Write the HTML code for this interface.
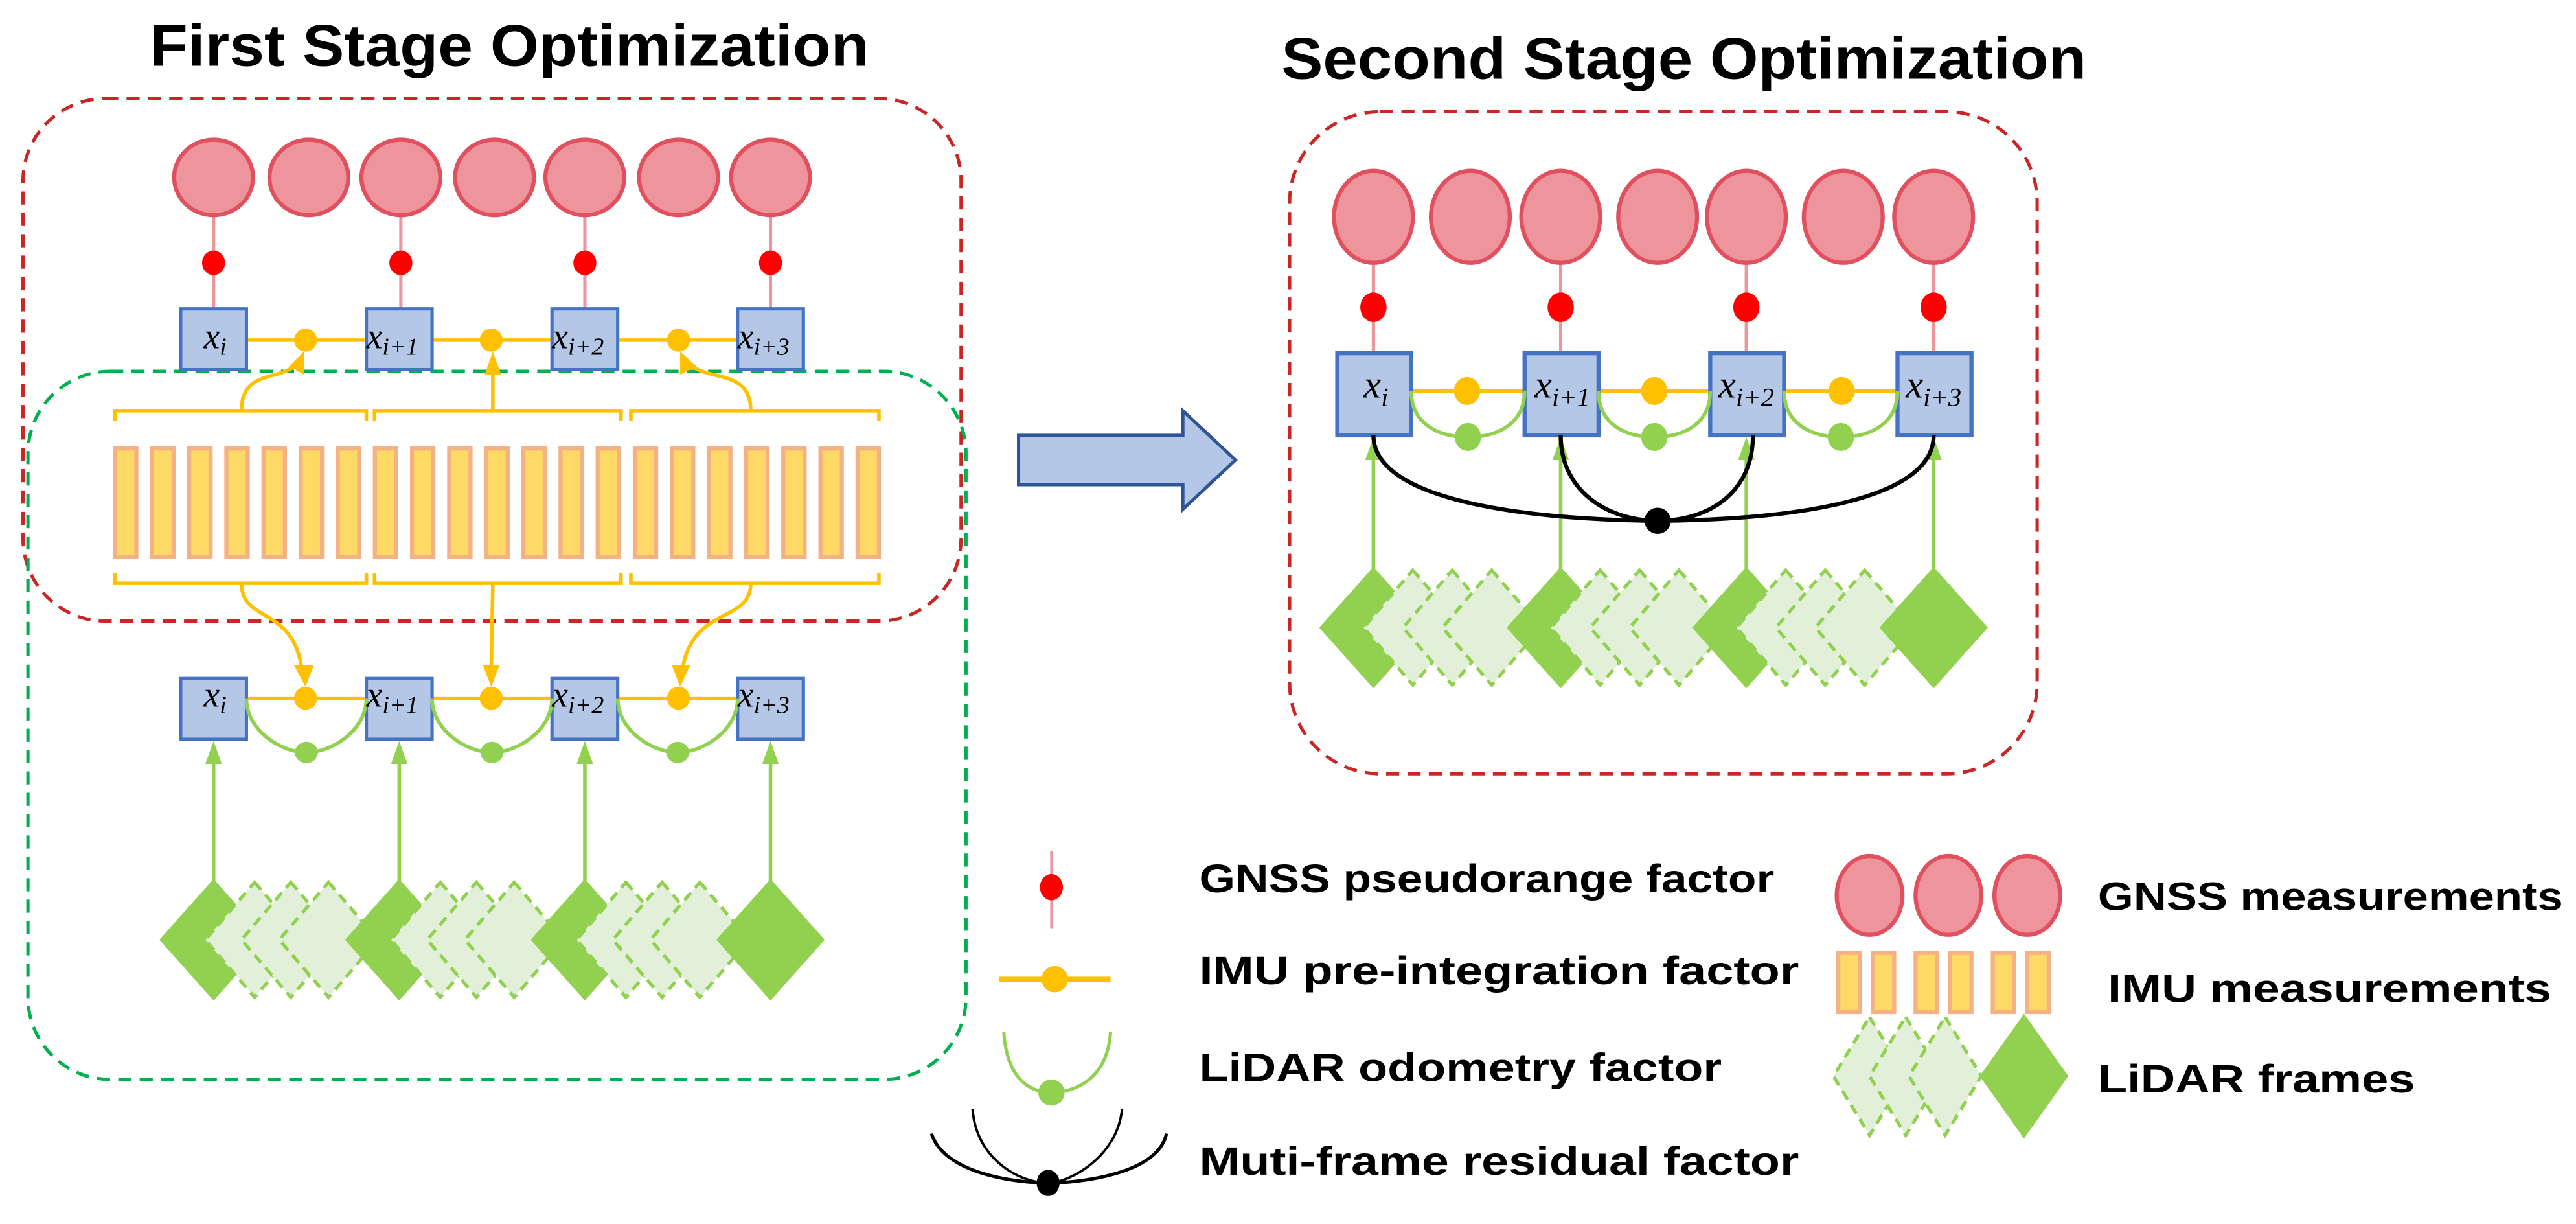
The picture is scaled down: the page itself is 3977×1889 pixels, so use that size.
<!DOCTYPE html>
<html><head><meta charset="utf-8"><style>html,body{margin:0;padding:0;background:#fff}svg{display:block}</style></head>
<body>
<svg id="s" width="3977" height="1889" viewBox="0 0 1568 745" preserveAspectRatio="none" xmlns="http://www.w3.org/2000/svg" font-family="Liberation Sans, sans-serif">
<rect width="1568" height="745" fill="#fff"/>
<text x="310" y="40" font-size="36" font-weight="bold" text-anchor="middle" textLength="438" lengthAdjust="spacingAndGlyphs">First Stage Optimization</text>
<text x="1025" y="48" font-size="36" font-weight="bold" text-anchor="middle" textLength="490" lengthAdjust="spacingAndGlyphs">Second Stage Optimization</text>
<rect x="14" y="60" width="571" height="318" rx="50" fill="none" stroke="#c00000" stroke-opacity="0.85" stroke-width="2" stroke-dasharray="8,5"/>
<rect x="17" y="226" width="571" height="431" rx="50" fill="none" stroke="#00b050" stroke-width="2" stroke-dasharray="8,5"/>
<rect x="785" y="68" width="455" height="403" rx="55" fill="none" stroke="#c00000" stroke-opacity="0.85" stroke-width="2" stroke-dasharray="8,5"/>
<g id="g"></g>
<path d="M620,265 H720 V250 L752,280 L720,310 V295 H620 Z" fill="#b4c7e7" stroke="#2f5597" stroke-width="2"/>
<g font-size="24" font-weight="bold">
<text x="730" y="543" textLength="350" lengthAdjust="spacingAndGlyphs">GNSS pseudorange factor</text>
<text x="730" y="599" textLength="365" lengthAdjust="spacingAndGlyphs">IMU pre-integration factor</text>
<text x="730" y="658" textLength="318" lengthAdjust="spacingAndGlyphs">LiDAR odometry factor</text>
<text x="730" y="715" textLength="365" lengthAdjust="spacingAndGlyphs">Muti-frame residual factor</text>
<text x="1277" y="554" textLength="283" lengthAdjust="spacingAndGlyphs">GNSS measurements</text>
<text x="1283" y="610" textLength="270" lengthAdjust="spacingAndGlyphs">IMU measurements</text>
<text x="1277" y="665" textLength="193" lengthAdjust="spacingAndGlyphs">LiDAR frames</text>
</g>
<g font-family="Liberation Serif, serif" font-style="italic" fill="#000">
<text x="124" y="212" font-size="22">x<tspan font-size="15" dy="4">i</tspan></text>
<text x="223" y="212" font-size="22">x<tspan font-size="15" dy="4">i+1</tspan></text>
<text x="336" y="212" font-size="22">x<tspan font-size="15" dy="4">i+2</tspan></text>
<text x="449" y="212" font-size="22">x<tspan font-size="15" dy="4">i+3</tspan></text>
<text x="124" y="430" font-size="22">x<tspan font-size="15" dy="4">i</tspan></text>
<text x="223" y="430" font-size="22">x<tspan font-size="15" dy="4">i+1</tspan></text>
<text x="336" y="430" font-size="22">x<tspan font-size="15" dy="4">i+2</tspan></text>
<text x="449" y="430" font-size="22">x<tspan font-size="15" dy="4">i+3</tspan></text>
<text x="830" y="242" font-size="24">x<tspan font-size="16" dy="5">i</tspan></text>
<text x="934" y="242" font-size="24">x<tspan font-size="16" dy="5">i+1</tspan></text>
<text x="1046" y="242" font-size="24">x<tspan font-size="16" dy="5">i+2</tspan></text>
<text x="1160" y="242" font-size="24">x<tspan font-size="16" dy="5">i+3</tspan></text>
</g>
</svg>
<script>
var g=document.getElementById('g'),h='';
function a(s){h+=s;}
var PK='#ee949c',PS='#e0505f',BF='#b4c7e7',BS='#4472c4',Y='#ffc000',G='#92d050';
function circ(x,y,rx,ry){a('<ellipse cx="'+x+'" cy="'+y+'" rx="'+rx+'" ry="'+ry+'" fill="'+PK+'" stroke="'+PS+'" stroke-width="2.5"/>');}
function dia(x,y,hw,hh,light){if(light)a('<path d="M'+x+','+(y-hh)+' L'+(x+hw)+','+y+' L'+x+','+(y+hh)+' L'+(x-hw)+','+y+'Z" fill="#e2f0d9" stroke="'+G+'" stroke-width="2" stroke-dasharray="6,4"/>');else a('<path d="M'+x+','+(y-hh)+' L'+(x+hw)+','+y+' L'+x+','+(y+hh)+' L'+(x-hw)+','+y+'Z" fill="'+G+'"/>');}
function arrowUp(x,y1,y2,c){a('<line x1="'+x+'" y1="'+y1+'" x2="'+x+'" y2="'+(y2+10)+'" stroke="'+c+'" stroke-width="2.2"/><path d="M'+(x-5)+','+(y2+14)+' L'+x+','+y2+' L'+(x+5)+','+(y2+14)+'Z" fill="'+c+'"/>');}
// LEFT
var LX=[130,243,356,469];
[130,188,244,301,356,413,469].forEach(function(x,i){if(i%2==0){a('<line x1="'+x+'" y1="120" x2="'+x+'" y2="188" stroke="'+PK+'" stroke-width="2"/><ellipse cx="'+x+'" cy="160" rx="7" ry="7.5" fill="red"/>');}circ(x,108,24,23);});
a('<line x1="150" y1="207" x2="448" y2="207" stroke="'+Y+'" stroke-width="2.2"/>');
a('<line x1="150" y1="425" x2="448" y2="425" stroke="'+Y+'" stroke-width="2.2"/>');
LX.forEach(function(x){a('<rect x="'+(x-20)+'" y="188" width="40" height="37" fill="'+BF+'" stroke="'+BS+'" stroke-width="2"/>');a('<rect x="'+(x-20)+'" y="413" width="40" height="37" fill="'+BF+'" stroke="'+BS+'" stroke-width="2"/>');});
[186,299,413].forEach(function(x){a('<ellipse cx="'+x+'" cy="207" rx="7" ry="7" fill="'+Y+'"/><ellipse cx="'+x+'" cy="425" rx="7" ry="7" fill="'+Y+'"/>');});
for(var i=0;i<3;i++){var x0=LX[i]+20,x1=LX[i+1]-20,m=(x0+x1)/2;a('<path d="M'+x0+',425 C'+x0+',445 '+(m-15)+',458 '+m+',458 C'+(m+15)+',458 '+x1+',445 '+x1+',425" fill="none" stroke="'+G+'" stroke-width="2.2"/><ellipse cx="'+m+'" cy="458" rx="7" ry="6.5" fill="'+G+'"/>');}
for(var k=0;k<21;k++){var bx=70+k*22.6;a('<rect x="'+bx+'" y="273" width="13" height="66" fill="#ffd966" stroke="#f4b183" stroke-width="2.5"/>');}
[[70,223],[228,378],[384,535]].forEach(function(p){a('<path d="M'+p[0]+',256 V250 H'+p[1]+' V256" fill="none" stroke="'+Y+'" stroke-width="2.2"/><path d="M'+p[0]+',349 V355 H'+p[1]+' V349" fill="none" stroke="'+Y+'" stroke-width="2.2"/>');});
a('<path d="M147,250 C147,225 170,232 180,222" fill="none" stroke="'+Y+'" stroke-width="2.2"/><path d="M176,223 L185,214 L185,228Z" fill="'+Y+'"/>');
arrowUp(300,250,214,Y);
a('<path d="M457,250 C457,225 432,232 420,222" fill="none" stroke="'+Y+'" stroke-width="2.2"/><path d="M424,223 L414,214 L414,228Z" fill="'+Y+'"/>');
a('<path d="M147,355 C147,380 180,368 184,410" fill="none" stroke="'+Y+'" stroke-width="2.2"/><path d="M179,405 L186,418 L191,405Z" fill="'+Y+'"/>');
a('<line x1="300" y1="355" x2="299" y2="406" stroke="'+Y+'" stroke-width="2.2"/><path d="M294,405 L299,418 L304,405Z" fill="'+Y+'"/>');
a('<path d="M457,355 C457,380 420,368 415,410" fill="none" stroke="'+Y+'" stroke-width="2.2"/><path d="M409,405 L414,418 L420,405Z" fill="'+Y+'"/>');
LX.forEach(function(x){arrowUp(x,540,451,G);});
LX.forEach(function(x,i){dia(x,572,33,37,false);if(i<3){dia(x+25,572,30,35,true);dia(x+47,572,30,35,true);dia(x+70,572,30,35,true);}});
// RIGHT
var RX=[836,950,1063,1177];
[836,895,950,1009,1063,1122,1177].forEach(function(x,i){if(i%2==0){a('<line x1="'+x+'" y1="158" x2="'+x+'" y2="215" stroke="'+PK+'" stroke-width="2"/><ellipse cx="'+x+'" cy="187" rx="8" ry="9" fill="red"/>');}circ(x,132,24,28);});
a('<line x1="858" y1="238" x2="1155" y2="238" stroke="'+Y+'" stroke-width="2.2"/>');
RX.forEach(function(x){a('<rect x="'+(x-22)+'" y="215" width="45" height="50" fill="'+BF+'" stroke="'+BS+'" stroke-width="2.5"/>');});
[893,1007,1121].forEach(function(x){a('<ellipse cx="'+x+'" cy="238" rx="8" ry="8.5" fill="'+Y+'"/>');});
for(var i=0;i<3;i++){var x0=RX[i]+23,x1=RX[i+1]-22,m=(x0+x1)/2;a('<path d="M'+x0+',238 C'+x0+',258 '+(m-18)+',266 '+m+',266 C'+(m+18)+',266 '+x1+',258 '+x1+',238" fill="none" stroke="'+G+'" stroke-width="2.2"/><ellipse cx="'+m+'" cy="266" rx="8" ry="8.5" fill="'+G+'"/>');}
RX.forEach(function(x){arrowUp(x,347,266,G);});
a('<g fill="none" stroke="#000" stroke-width="2.5"><path d="M836,265 C836,305 930,316 1005,317"/><path d="M950,265 C950,300 980,317 1009,317"/><path d="M1067,265 C1067,300 1040,317 1009,317"/><path d="M1177,265 C1177,305 1090,316 1012,317"/></g><ellipse cx="1009" cy="317" rx="8" ry="8" fill="#000"/>');
RX.forEach(function(x,i){dia(x,382,33,37,false);if(i<3){dia(x+24,382,30,35,true);dia(x+48,382,30,35,true);dia(x+72,382,30,35,true);}});
// LEGEND
a('<line x1="640" y1="518" x2="640" y2="565" stroke="'+PK+'" stroke-width="1.5"/><ellipse cx="640" cy="540" rx="7" ry="8" fill="red"/>');
a('<line x1="608" y1="596" x2="676" y2="596" stroke="'+Y+'" stroke-width="3"/><ellipse cx="642" cy="596" rx="8" ry="8" fill="'+Y+'"/>');
a('<path d="M611,628 C613,660 630,665 640,665 C650,665 674,660 676,628" fill="none" stroke="'+G+'" stroke-width="2"/><ellipse cx="640" cy="665" rx="8" ry="8" fill="'+G+'"/>');
a('<path d="M567,690 C575,715 620,720 638,720 C656,720 705,715 710,690" fill="none" stroke="#000" stroke-width="2"/><path d="M592,675 C594,705 620,720 638,720 C650,720 680,705 683,675" fill="none" stroke="#000" stroke-width="1.5"/><ellipse cx="638" cy="720" rx="7" ry="8" fill="#000"/>');
[1138,1186,1234].forEach(function(x){circ(x,545,20,24);});
[1125,1146,1172,1193,1219,1240].forEach(function(x){a('<rect x="'+(x-6)+'" y="580" width="13" height="36" fill="#ffd966" stroke="#f4b183" stroke-width="2.5"/>');});
dia(1138,655,22,36,true);dia(1160,655,22,36,true);dia(1184,655,22,36,true);dia(1232,655,27,38,false);
g.innerHTML=h;
</script>
</body></html>
